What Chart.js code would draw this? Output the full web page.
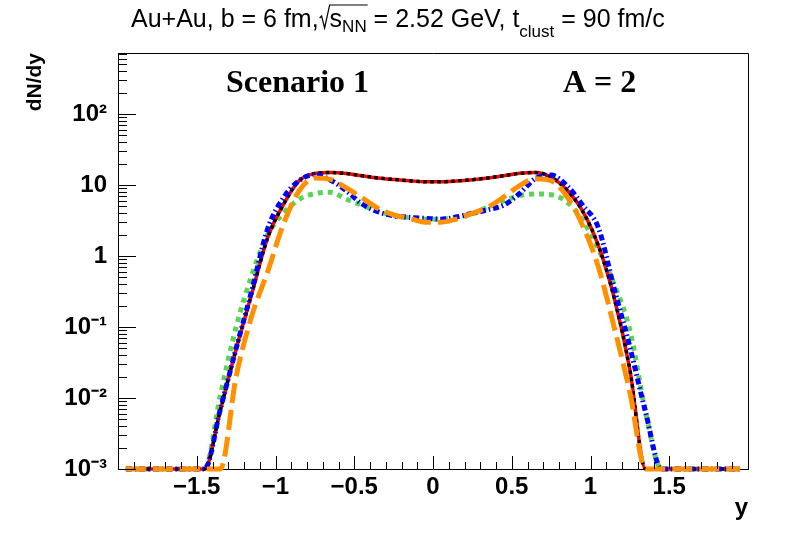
<!DOCTYPE html>
<html>
<head>
<meta charset="utf-8">
<script src="https://cdn.jsdelivr.net/npm/chart.js@4.4.1/dist/chart.umd.min.js"></script>
<style>
  html, body { margin: 0; padding: 0; background: #fff; }
  #wrap { width: 788px; height: 534px; position: relative; }
</style>
</head>
<body>
<div id="wrap"><canvas id="dndy" width="788" height="534"></canvas></div>
<script>
// bin centres in rapidity
const rapidity = [-1.95, -1.85, -1.75, -1.65, -1.55, -1.45, -1.35, -1.25, -1.15, -1.05,
  -0.95, -0.85, -0.75, -0.65, -0.55, -0.45, -0.35, -0.25, -0.15, -0.05,
  0.05, 0.15, 0.25, 0.35, 0.45, 0.55, 0.65, 0.75, 0.85, 0.95,
  1.05, 1.15, 1.25, 1.35, 1.45, 1.55, 1.65, 1.75, 1.85, 1.95];

// dN/dy, 0.001 = clipped at the frame bottom
const redSolid = [0.001, 0.001, 0.001, 0.001, 0.001, 0.001, 0.0068, 0.049, 0.30, 1.8,
  5.3, 11.5, 14.5, 15, 14.5, 13.5, 12.6, 12, 11.5, 11.1,
  11.1, 11.4, 11.9, 12.6, 13.5, 14.6, 15, 12.9, 8.5, 4.3,
  1.4, 0.26, 0.025, 0.001, 0.001, 0.001, 0.001, 0.001, 0.001, 0.001];
const blackDotted = [0.001, 0.001, 0.001, 0.001, 0.001, 0.001, 0.0068, 0.049, 0.30, 1.8,
  5.3, 11.5, 14.5, 15, 14.5, 13.5, 12.6, 12, 11.5, 11.1,
  11.1, 11.4, 11.9, 12.6, 13.5, 14.6, 15, 12.9, 8.5, 4.3,
  1.4, 0.26, 0.025, 0.001, 0.001, 0.001, 0.001, 0.001, 0.001, 0.001];
const blueDashDot = [0.001, 0.001, 0.001, 0.001, 0.001, 0.001, 0.007, 0.05, 0.33, 2.4,
  6.6, 11.5, 14, 11.7, 8.3, 5.4, 4.2, 3.7, 3.5, 3.4,
  3.3, 3.55, 4.0, 4.5, 5.2, 7.6, 12.3, 13.8, 9.8, 5.2,
  2.5, 0.35, 0.052, 0.0063, 0.001, 0.001, 0.001, 0.001, 0.001, 0.001];
const greenDotted = [0.001, 0.001, 0.001, 0.001, 0.001, 0.001, 0.011, 0.1, 0.54, 2.0,
  4.0, 6.3, 7.6, 7.9, 6.3, 5.2, 4.3, 3.7, 3.5, 3.3,
  3.3, 3.55, 3.9, 4.9, 6.0, 7.1, 7.5, 7.3, 5.8, 3.2,
  1.25, 0.4, 0.09, 0.0063, 0.001, 0.001, 0.001, 0.001, 0.001, 0.001];
const orangeDashed = [0.001, 0.001, 0.001, 0.001, 0.001, 0.001, 0.001, 0.02, 0.145, 0.6,
  2.8, 8.3, 12.6, 12, 9.1, 6.6, 4.7, 3.8, 3.4, 3.0,
  3.0, 3.3, 4.0, 4.9, 6.8, 9.8, 12.3, 11.5, 6.9, 2.7,
  0.7, 0.1, 0.012, 0.001, 0.001, 0.001, 0.001, 0.001, 0.001, 0.001];

const xTickValues = [-1.5, -1, -0.5, 0, 0.5, 1, 1.5];
const xTickLabels = ['\u22121.5', '\u22121', '\u22120.5', '0', '0.5', '1', '1.5'];
const yTickValues = [0.001, 0.01, 0.1, 1, 10, 100];
const yTickLabels = ['10\u207B\u00B3', '10\u207B\u00B2', '10\u207B\u00B9', '1', '10', '10\u00B2'];

const toPoints = vals => vals.map((v, i) => ({ x: rapidity[i], y: v }));

const lineBase = {
  pointRadius: 0,
  fill: false,
  cubicInterpolationMode: 'monotone',
  borderCapStyle: 'butt',
  clip: 8
};

// ROOT style frame: ticks inside, box, texts
const frameTicks = {
  id: 'frameTicks',
  afterDatasetsDraw(chart) {
    const { ctx, chartArea: a, scales: { x, y } } = chart;
    ctx.save();
    ctx.strokeStyle = '#000';
    ctx.lineWidth = 1;
    ctx.beginPath();
    ctx.moveTo(a.left, a.top + 0.5);
    ctx.lineTo(a.right + 0.5, a.top + 0.5);
    ctx.lineTo(a.right + 0.5, a.bottom);
    for (let n = -3; n <= 2; n++) {
      for (let k = 1; k <= 9; k++) {
        const v = k * Math.pow(10, n);
        if (v > y.max) continue;
        const py = Math.round(y.getPixelForValue(v)) + 0.5;
        ctx.moveTo(a.left, py);
        ctx.lineTo(a.left + (k === 1 ? 18 : 9), py);
      }
    }
    for (let i = -20; i <= 20; i++) {
      const px = Math.round(x.getPixelForValue(i / 10)) + 0.5;
      ctx.moveTo(px, a.bottom);
      ctx.lineTo(px, a.bottom - (i % 5 === 0 ? 13 : 7));
    }
    ctx.stroke();
    ctx.restore();
  },
  afterDraw(chart) {
    const { ctx } = chart;
    ctx.save();
    ctx.fillStyle = '#000';
    ctx.strokeStyle = '#000';
    ctx.textBaseline = 'alphabetic';
    ctx.textAlign = 'left';

    // title with sqrt and subscripts
    const big = '25px "Liberation Sans"';
    const small = '17px "Liberation Sans"';
    let tx = 131;
    const base = 27;
    const put = (s, font, dy) => {
      ctx.font = font;
      ctx.fillText(s, tx, base + dy);
      tx += ctx.measureText(s).width;
    };
    put('Au+Au, b = 6 fm,', big, 0);
    const rootX = tx + 1;
    tx += 11;
    put('s', big, 0);
    put('NN', small, 5);
    ctx.beginPath();
    ctx.lineWidth = 1.2;
    ctx.moveTo(rootX, base - 9);
    ctx.lineTo(rootX + 2, base - 11);
    ctx.lineTo(rootX + 5, base + 1);
    ctx.lineTo(rootX + 10, base - 22);
    ctx.lineTo(tx + 1, base - 22);
    ctx.stroke();
    put(' = 2.52 GeV, t', big, 0);
    put('clust', small, 10);
    put(' = 90 fm/c', big, 0);

    ctx.font = 'bold 32px "Liberation Serif"';
    ctx.fillText('Scenario 1', 226, 92);
    ctx.fillText('A = 2', 563, 92);
    ctx.restore();
  }
};

new Chart(document.getElementById('dndy'), {
  type: 'line',
  data: {
    datasets: [
      { ...lineBase, label: 'orange', data: toPoints(orangeDashed), borderColor: '#ff9000', borderWidth: 5, borderDash: [20, 7], order: 1 },
      { ...lineBase, label: 'blue', data: toPoints(blueDashDot), borderColor: '#0000ff', borderWidth: 5, borderDash: [6, 3, 1.5, 3], order: 2 },
      { ...lineBase, label: 'black', data: toPoints(blackDotted), borderColor: '#000000', borderWidth: 3.5, borderDash: [3.5, 3.5], order: 3 },
      { ...lineBase, label: 'red', data: toPoints(redSolid), borderColor: '#ff0000', borderWidth: 3.5, order: 4 },
      { ...lineBase, label: 'green', data: toPoints(greenDotted), borderColor: '#59d454', borderWidth: 5, borderDash: [5, 5], order: 5 }
    ]
  },
  options: {
    responsive: false,
    animation: false,
    layout: { padding: { top: 53, right: 40, left: 0, bottom: 0 } },
    plugins: { legend: { display: false }, tooltip: { enabled: false }, title: { display: false } },
    scales: {
      x: {
        type: 'linear',
        min: -2,
        max: 2,
        afterBuildTicks: s => { s.ticks = xTickValues.map(v => ({ value: v })); },
        afterFit: s => { s.height = 65; },
        ticks: {
          autoSkip: false,
          maxRotation: 0,
          padding: 4,
          color: '#000',
          font: { family: 'Liberation Sans', size: 24, weight: 'bold' },
          callback: (v, i) => xTickLabels[i]
        },
        grid: { display: false, drawTicks: false },
        border: { display: true, color: '#000', width: 1 },
        title: {
          display: true, text: 'y', align: 'end', color: '#000',
          font: { family: 'Liberation Sans', size: 24, weight: 'bold' },
          padding: { top: 0, bottom: 11 }
        }
      },
      y: {
        type: 'logarithmic',
        min: 0.001,
        max: 724,
        afterBuildTicks: s => { s.ticks = yTickValues.map(v => ({ value: v })); },
        afterFit: s => { s.width = 118; },
        ticks: {
          autoSkip: false,
          padding: 11,
          color: '#000',
          font: { family: 'Liberation Sans', size: 24, weight: 'bold' },
          callback: (v, i) => yTickLabels[i]
        },
        grid: { display: false, drawTicks: false },
        border: { display: true, color: '#000', width: 1 },
        title: {
          display: true, text: 'dN/dy', align: 'end', color: '#000',
          font: { family: 'Liberation Sans', size: 21, weight: 'bold' },
          padding: { top: 23, bottom: 0 }
        }
      }
    }
  },
  plugins: [frameTicks]
});
</script>
</body>
</html>
